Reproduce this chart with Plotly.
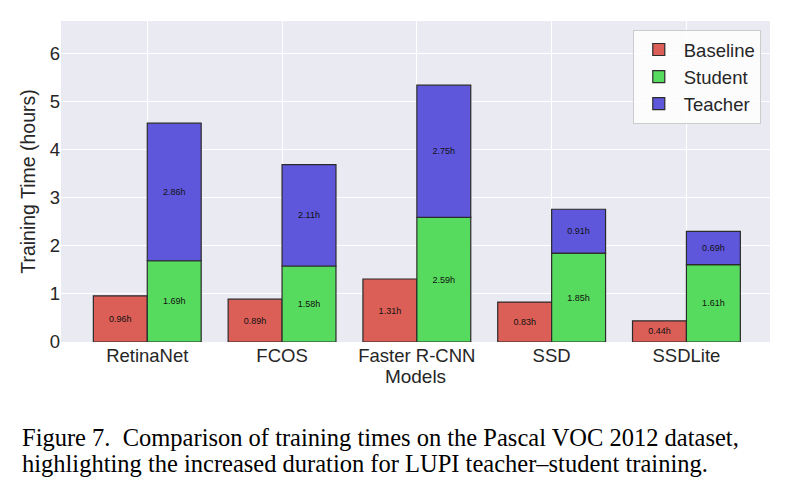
import plotly.graph_objects as go

models = ["RetinaNet", "FCOS", "Faster R-CNN", "SSD", "SSDLite"]
baseline = [0.96, 0.89, 1.31, 0.83, 0.44]
student = [1.69, 1.58, 2.59, 1.85, 1.61]
teacher = [2.86, 2.11, 2.75, 0.91, 0.69]
yticks = [0, 1, 2, 3, 4, 5, 6]

caption1 = "Figure 7.  Comparison of training times on the Pascal VOC 2012 dataset,"
caption2 = "highlighting the increased duration for LUPI teacher\u2013student training."

xpos = list(range(len(models)))
red = "#DB5F57"
green = "#57DB5E"
blue = "#5E57DB"
edge = "#2b2b2b"
txtfont = dict(family="Liberation Sans, Arial, sans-serif", size=9, color="#111111")

fig = go.Figure()
fig.add_trace(go.Bar(
    x=xpos, y=baseline, name="Baseline", width=0.4, offset=-0.4,
    marker=dict(color=red, line=dict(color=edge, width=1.2)),
    text=[f"{v:.2f}h" for v in baseline], textposition="inside",
    insidetextanchor="middle", textangle=0, textfont=txtfont, constraintext="none",
))
fig.add_trace(go.Bar(
    x=xpos, y=student, name="Student", width=0.4, offset=0,
    marker=dict(color=green, line=dict(color=edge, width=1.2)),
    text=[f"{v:.2f}h" for v in student], textposition="inside",
    insidetextanchor="middle", textangle=0, textfont=txtfont, constraintext="none",
))
fig.add_trace(go.Bar(
    x=xpos, y=teacher, base=student, name="Teacher", width=0.4, offset=0,
    marker=dict(color=blue, line=dict(color=edge, width=1.2)),
    text=[f"{v:.2f}h" for v in teacher], textposition="inside",
    insidetextanchor="middle", textangle=0, textfont=txtfont, constraintext="none",
))

ymax = max(s + t for s, t in zip(student, teacher)) * 1.25

axfont = dict(family="Liberation Sans, Arial, sans-serif", size=18.5, color="#262626")
fig.update_layout(
    width=789, height=493,
    margin=dict(l=61, r=19, t=21, b=151),
    paper_bgcolor="white", plot_bgcolor="#EAEAF2",
    barmode="overlay",
    showlegend=True,
    legend=dict(
        x=0.987, y=0.972, xanchor="right", yanchor="top",
        bgcolor="rgba(255,255,255,0.85)", bordercolor="#cccccc", borderwidth=1,
        font=dict(family="Liberation Sans, Arial, sans-serif", size=18.5, color="#262626"),
        itemwidth=40, tracegroupgap=0,
    ),
    xaxis=dict(
        range=[-0.64, 4.62], tickvals=xpos, ticktext=models,
        tickfont=axfont, showgrid=True, gridcolor="white", gridwidth=1,
        zeroline=False, showline=False, ticks="", ticklen=0,
        title=dict(text="Models", font=dict(family="Liberation Sans, Arial, sans-serif", size=19, color="#262626"), standoff=5),
    ),
    yaxis=dict(
        range=[0, ymax], tickvals=yticks, tickfont=axfont,
        showgrid=True, gridcolor="white", gridwidth=1,
        zeroline=False, showline=False, ticks="", ticklen=0,
        title=dict(text="Training Time (hours)", font=dict(family="Liberation Sans, Arial, sans-serif", size=19.5, color="#262626"), standoff=8),
    ),
    font=dict(family="Liberation Sans, Arial, sans-serif"),
)

capfont = dict(family="Liberation Serif, Times New Roman, serif", size=24.5, color="#000000")
fig.add_annotation(text=caption1, xref="paper", yref="paper", x=(20 - 61) / 709, y=(342 - 437) / 321,
                   xanchor="left", yanchor="middle", showarrow=False, font=capfont)
fig.add_annotation(text=caption2, xref="paper", yref="paper", x=(20 - 61) / 709, y=(342 - 463) / 321,
                   xanchor="left", yanchor="middle", showarrow=False, font=capfont)

fig.write_html("out.html")
